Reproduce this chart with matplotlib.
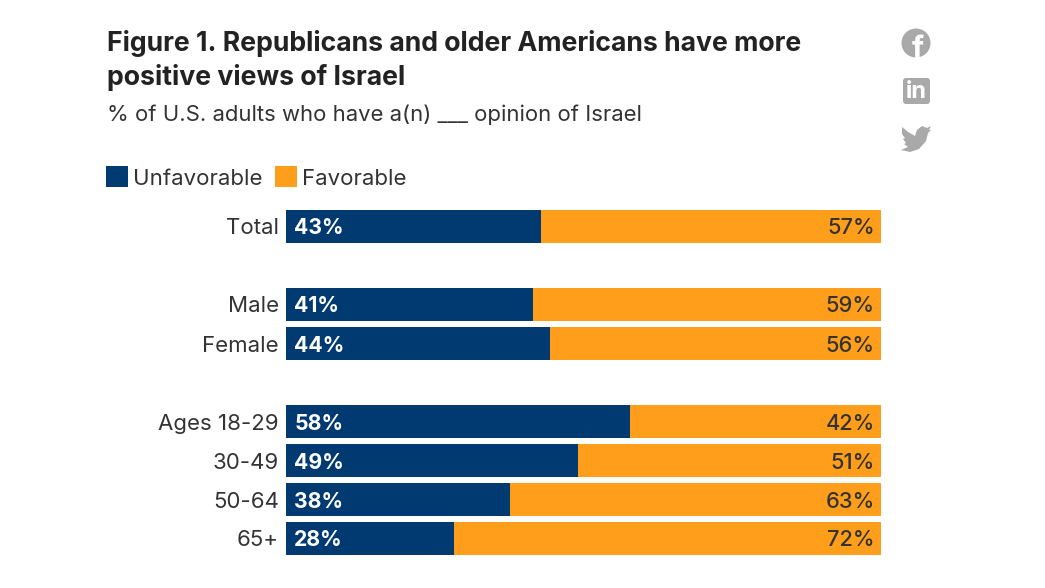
import matplotlib
matplotlib.use('Agg')
import matplotlib.pyplot as plt
from matplotlib.patches import Circle, FancyBboxPatch, Polygon, Rectangle

categories = ['Total', 'Male', 'Female', 'Ages 18-29', '30-49', '50-64', '65+']
rows = [0, 2, 3, 5, 6, 7, 8]
unfavorable = [43, 41, 44, 58, 49, 38, 28]
favorable = [57, 59, 56, 42, 51, 63, 72]
# bar lengths, labels above are rounded
unfavorable_share = [42.9, 41.5, 44.4, 57.8, 49.1, 37.6, 28.2]
favorable_share = [57.1, 58.5, 55.6, 42.2, 50.9, 62.4, 71.8]

navy = '#003a70'
orange = '#ff9e1b'
grey = '#a9a9a9'
dark = '#222222'
text_col = '#333333'

plt.rcParams['font.family'] = ['Inter', 'DejaVu Sans']

W, H = 1045, 588
fig = plt.figure(figsize=(W / 100, H / 100), dpi=100)

# overlay in pixel coordinates for the headings, legend and icons
bg = fig.add_axes([0, 0, 1, 1])
bg.set_xlim(0, W)
bg.set_ylim(H, 0)
bg.axis('off')

bg.text(107, 43.5, 'Figure 1. Republicans and older Americans have more', fontsize=19.2,
        fontweight='bold', color=dark, va='center')
bg.text(107, 77.5, 'positive views of Israel', fontsize=19.2,
        fontweight='bold', color=dark, va='center')
bg.text(107, 115, '% of U.S. adults who have a(n) ___ opinion of Israel', fontsize=15.9,
        color=text_col, va='center')

bg.add_patch(Rectangle((106, 166), 22, 21, color=navy, lw=0))
bg.text(133, 179, 'Unfavorable', fontsize=16, color=text_col, va='center')
bg.add_patch(Rectangle((275, 166), 22, 21, color=orange, lw=0))
bg.text(302, 179, 'Favorable', fontsize=16, color=text_col, va='center')

# share icons
fb = Circle((916, 43), 14.5, color=grey, lw=0)
bg.add_patch(fb)
f_glyph = bg.text(918, 58, 'f', fontsize=22, fontweight='bold', color='white', ha='center', va='baseline')
f_glyph.set_clip_path(fb)
bg.add_patch(FancyBboxPatch((904.5, 79.5), 24, 23, boxstyle='round,pad=1.5,rounding_size=3', color=grey, lw=0))
bg.text(916, 92, 'in', fontsize=17, fontweight='bold', color='white', ha='center', va='center')
bird = [(902, 127), (908, 132), (915, 136), (917, 130), (922, 126), (927, 128), (931, 126),
        (929, 130), (931, 130), (928, 133), (926, 141), (919, 149), (910, 152), (901, 150),
        (908, 147), (904, 144), (906, 143), (903, 139), (905, 138), (902, 134)]
bg.add_patch(Polygon(bird, closed=True, color=grey, lw=0))

# bars, 39 px per row
ax = fig.add_axes([286 / W, 1 - 558 / H, 595 / W, 351 / H])
ax.barh(rows, unfavorable_share, height=33 / 39, color=navy)
ax.barh(rows, favorable_share, left=unfavorable_share, height=33 / 39, color=orange)

for r, u, f in zip(rows, unfavorable, favorable):
    ax.text(1.4, r, f'{u}%', color='white', fontsize=15.3, fontweight='bold', va='center_baseline')
    ax.text(98.95, r, f'{f}%', color=text_col, fontsize=15.7, fontweight='medium', ha='right', va='center_baseline')

ax.set_xlim(0, 100)
ax.set_ylim(8.5, -0.5)
ax.set_yticks(rows)
ax.set_yticklabels(categories, fontsize=16, color=text_col)
ax.tick_params(axis='y', length=0, pad=5)
ax.set_xticks([])
for s in ax.spines.values():
    s.set_visible(False)
ax.patch.set_alpha(0)

plt.savefig('out.png', dpi=100)
